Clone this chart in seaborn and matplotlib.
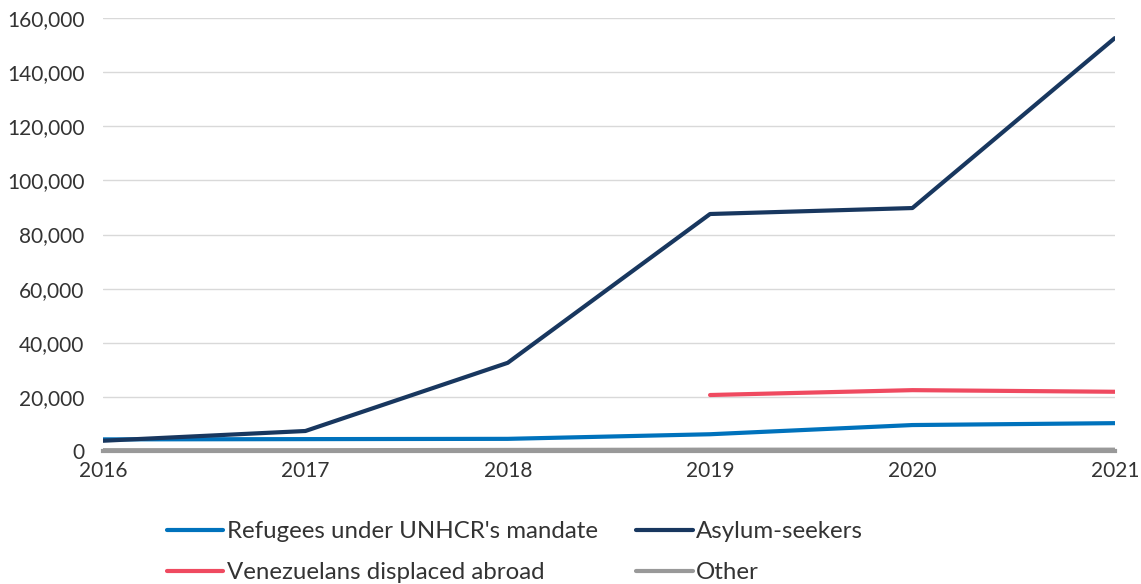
import matplotlib.pyplot as plt
import matplotlib.ticker as mticker
import numpy as np
import pandas as pd
import seaborn as sns

# Data
years = [2016, 2017, 2018, 2019, 2020, 2021]
refugees = [4300, 4400, 4500, 6200, 9600, 10300]
asylum_seekers = [3800, 7400, 32600, 87600, 89800, 152600]
venezuelans = [np.nan, np.nan, np.nan, 20700, 22500, 21900]
other = [300, 300, 400, 500, 500, 500]

series_names = ["Refugees under UNHCR's mandate", "Asylum-seekers",
                "Venezuelans displaced abroad", "Other"]
colors = ["#0072BC", "#18375F", "#EF4A60", "#999999"]

df = pd.DataFrame({
    "year": years * 4,
    "value": refugees + asylum_seekers + venezuelans + other,
    "series": sum([[n] * len(years) for n in series_names], []),
})

sns.set_theme(style="white")
plt.rcParams['font.family'] = ['Lato', 'DejaVu Sans']
text_color = "#333333"

fig = plt.figure(figsize=(11.41, 5.84), dpi=100)
ax = fig.add_axes([0.0903, 0.2277, 0.8867, 0.7413])

sns.lineplot(data=df, x="year", y="value", hue="series", hue_order=series_names,
             palette=colors, linewidth=3, ax=ax, legend=False)

ax.set_xlim(2016, 2021)
ax.set_ylim(0, 160000)
ax.yaxis.set_major_locator(mticker.MultipleLocator(20000))
ax.yaxis.set_major_formatter(mticker.FuncFormatter(lambda v, p: f"{int(v):,}"))
ax.set_xticks(years)
ax.grid(axis="y", color="#D9D9D9", linewidth=1)
ax.set_axisbelow(True)
for s in ["top", "right", "left"]:
    ax.spines[s].set_visible(False)
ax.spines["bottom"].set_color("#999999")
ax.spines["bottom"].set_linewidth(3)
ax.tick_params(axis="both", length=0, labelsize=15, colors=text_color)
ax.tick_params(axis="x", pad=7)
ax.tick_params(axis="y", pad=13.5)
ax.set_xlabel("")
ax.set_ylabel("")

# Legend in two columns below the plot
handles = [plt.Line2D([], [], color=c, linewidth=3) for c in colors]
order = [0, 2, 1, 3]
leg = fig.legend([handles[i] for i in order], [series_names[i] for i in order],
                 loc="lower left", bbox_to_anchor=(0.127, -0.0355), ncol=2,
                 frameon=False, fontsize=17.3, handlelength=2.35, handletextpad=0.15,
                 columnspacing=1.6, labelspacing=0.83)
for t in leg.get_texts():
    t.set_color(text_color)

fig.savefig("out.png", dpi=100)
